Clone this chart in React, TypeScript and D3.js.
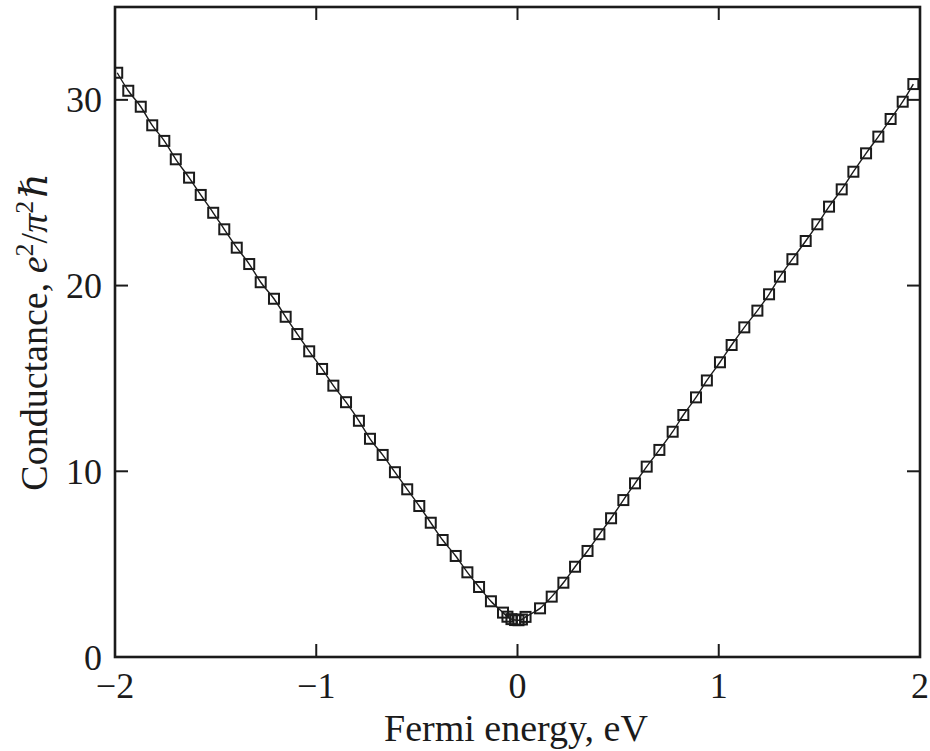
import React from "react";
import * as d3 from "d3";

const energy: number[] = [
  -1.989, -1.934, -1.872, -1.815, -1.755, -1.698, -1.632, -1.574, -1.512, -1.457,
  -1.395, -1.333, -1.276, -1.21, -1.152, -1.094, -1.035, -0.971, -0.915, -0.852,
  -0.788, -0.733, -0.67, -0.609, -0.548, -0.488, -0.431, -0.372, -0.307, -0.249,
  -0.191, -0.132, -0.072, -0.05, -0.03, -0.012, 0.005, 0.022, 0.04, 0.112,
  0.17, 0.228, 0.286, 0.348, 0.407, 0.465, 0.526, 0.584, 0.642, 0.705,
  0.771, 0.824, 0.887, 0.941, 1.006, 1.064, 1.127, 1.192, 1.25, 1.304,
  1.366, 1.432, 1.49, 1.548, 1.611, 1.669, 1.732, 1.793, 1.854, 1.914, 1.967,
];
const conductance: number[] = [
  31.46, 30.49, 29.63, 28.63, 27.79, 26.8, 25.81, 24.88, 23.92, 23.03,
  22.04, 21.16, 20.18, 19.29, 18.32, 17.39, 16.46, 15.51, 14.61, 13.72,
  12.72, 11.75, 10.88, 9.95, 9.03, 8.13, 7.23, 6.3, 5.44, 4.56,
  3.77, 3.0, 2.39, 2.17, 2.04, 1.99, 1.98, 2.02, 2.16, 2.62,
  3.25, 4.0, 4.86, 5.71, 6.61, 7.47, 8.45, 9.35, 10.25, 11.15,
  12.13, 13.03, 13.98, 14.89, 15.87, 16.8, 17.75, 18.65, 19.53, 20.48,
  21.42, 22.4, 23.3, 24.25, 25.18, 26.13, 27.12, 28.02, 28.97, 29.9, 30.85,
];
const xTicks: number[] = [-2, -1, 0, 1, 2];
const yTicks: number[] = [0, 10, 20, 30];

const W = 930;
const H = 751;
const left = 115;
const right = 920;
const top = 7;
const bottom = 657;
const ink = "#1b1b1b";
const font = "'Liberation Serif', 'DejaVu Serif', serif";

export default function App() {
  const x = d3.scaleLinear().domain([-2, 2]).range([left, right]);
  const y = d3.scaleLinear().domain([0, 35]).range([bottom, top]);
  const pts = energy.map((e, i) => [e, conductance[i]] as [number, number]);
  const line = d3
    .line<[number, number]>()
    .x((d) => x(d[0]))
    .y((d) => y(d[1]))
    .curve(d3.curveMonotoneX);
  const tickLen = 13;
  const ms = 10;
  const fmt = (v: number) => (v < 0 ? "\u2212" + Math.abs(v) : String(v));

  return (
    <svg
      width={W}
      height={H}
      style={{ position: "absolute", left: 0, top: 0, background: "#fff" }}
      fontFamily={font}
    >
      <rect x={0} y={0} width={W} height={H} fill="#fff" />
      <defs>
        <clipPath id="plot">
          <rect x={left} y={top} width={right - left} height={bottom - top} />
        </clipPath>
      </defs>
      {xTicks.map((t) => (
        <g key={"xt" + t}>
          <line x1={x(t)} x2={x(t)} y1={bottom} y2={bottom - tickLen} stroke={ink} strokeWidth={2} />
          <line x1={x(t)} x2={x(t)} y1={top} y2={top + tickLen} stroke={ink} strokeWidth={2} />
          <text x={x(t)} y={698} textAnchor="middle" fontSize={36} fill={ink}>
            {fmt(t)}
          </text>
        </g>
      ))}
      {yTicks.map((t) => (
        <g key={"yt" + t}>
          <line x1={left} x2={left + tickLen} y1={y(t)} y2={y(t)} stroke={ink} strokeWidth={2} />
          <line x1={right} x2={right - tickLen} y1={y(t)} y2={y(t)} stroke={ink} strokeWidth={2} />
          <text x={102} y={y(t)} dy="0.35em" textAnchor="end" fontSize={36} fill={ink}>
            {fmt(t)}
          </text>
        </g>
      ))}
      <g clipPath="url(#plot)">
        <path d={line(pts) || ""} fill="none" stroke={ink} strokeWidth={1.4} />
        {pts.map((p, i) => (
          <rect
            key={i}
            x={x(p[0]) - ms / 2}
            y={y(p[1]) - ms / 2}
            width={ms}
            height={ms}
            fill="none"
            stroke={ink}
            strokeWidth={2}
          />
        ))}
      </g>
      <rect
        x={left}
        y={top}
        width={right - left}
        height={bottom - top}
        fill="none"
        stroke={ink}
        strokeWidth={2.6}
      />
      <text x={516} y={741} textAnchor="middle" fontSize={38} fill={ink}>
        Fermi energy, eV
      </text>
      <text
        transform={`translate(47, ${(top + bottom) / 2}) rotate(-90)`}
        textAnchor="middle"
        fontSize={38}
        fill={ink}
      >
        <tspan>Conductance, </tspan>
        <tspan fontStyle="italic">e</tspan>
        <tspan fontSize={26} dy={-14}>2</tspan>
        <tspan dy={14}>/</tspan>
        <tspan fontStyle="italic">π</tspan>
        <tspan fontSize={26} dy={-14}>2</tspan>
        <tspan dy={14} dx={3} fontStyle="italic">ℏ</tspan>
      </text>
    </svg>
  );
}
